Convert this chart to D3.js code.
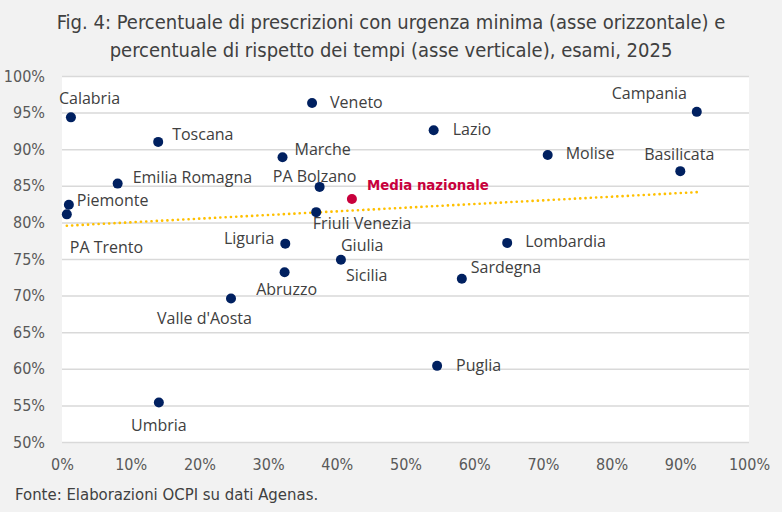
<!DOCTYPE html>
<html>
<head>
<meta charset="utf-8">
<script src="https://cdn.jsdelivr.net/npm/d3@7"></script>
<style>
  html, body { margin: 0; padding: 0; background: #f2f2f2; }
  #chart { width: 782px; height: 512px; }
  .narrow { font-family: "Liberation Sans Narrow", "DejaVu Sans Condensed", sans-serif; }
  .lbl { font-family: "Open Sans", sans-serif; }
</style>
</head>
<body>
<div id="chart"></div>
<script>
// dati (percentuali)
const regioni = ["Calabria", "Veneto", "Campania", "Toscana", "Lazio", "Marche", "Molise",
  "Basilicata", "Emilia Romagna", "PA Bolzano", "Piemonte", "Friuli Venezia Giulia", "PA Trento",
  "Liguria", "Lombardia", "Sicilia", "Abruzzo", "Sardegna", "Valle d'Aosta", "Puglia", "Umbria"];
const urgenzaMinima = [1.3, 36.4, 92.4, 14.0, 54.1, 32.1, 70.7, 90.0, 8.1, 37.5, 1.0, 37.0, 0.7,
  32.5, 64.8, 40.6, 32.4, 58.2, 24.6, 54.6, 14.1];
const rispettoTempi = [94.35, 96.3, 95.1, 91.0, 92.6, 88.9, 89.2, 87.0, 85.3, 84.85, 82.4, 81.4, 81.1,
  77.1, 77.2, 74.9, 73.2, 72.3, 69.6, 60.4, 55.4];
const mediaNazionale = { nome: "Media nazionale", x: 42.2, y: 83.2 };

const xTicks = [0, 10, 20, 30, 40, 50, 60, 70, 80, 90, 100];
const yTicks = [50, 55, 60, 65, 70, 75, 80, 85, 90, 95, 100];

const titolo = [
  "Fig. 4: Percentuale di prescrizioni con urgenza minima (asse orizzontale) e",
  "percentuale di rispetto dei tempi (asse verticale), esami, 2025"
];
const fonte = "Fonte: Elaborazioni OCPI su dati Agenas.";

// posizione delle etichette rispetto al punto: [dx, dy, ancoraggio]
const posEtichette = [
  [-12, -18, "start"], [18, 1, "start"], [-85, -17, "start"], [14, -6, "start"],
  [19, 1, "start"], [12, -7, "start"], [18, 0, "start"], [-1, -15, "middle"],
  [15, -5, "start"], [-5, -9, "middle"], [8, -3, "start"], [46, 13, "middle"],
  [3, 34, "start"], [-11, -4, "end"], [18, 0, "start"], [5, 17, "start"],
  [2, 19, "middle"], [9, -10, "start"], [-74, 21, "start"], [19, 1, "start"],
  [0, 24, "middle"]
];

const W = 782, H = 512;
const svg = d3.select("#chart").append("svg")
  .attr("width", W).attr("height", H);

svg.append("rect").attr("width", W).attr("height", H).attr("fill", "#f2f2f2");

const x = d3.scaleLinear().domain([0, 100]).range([62, 749]);
const y = d3.scaleLinear().domain([50, 100]).range([442, 76]);

// area del grafico
svg.append("rect")
  .attr("x", x(0)).attr("y", y(100))
  .attr("width", x(100) - x(0)).attr("height", y(50) - y(100))
  .attr("fill", "#fff");

// titolo
svg.append("g").selectAll("text")
  .data(titolo).join("text")
  .attr("class", "narrow")
  .attr("x", W / 2)
  .attr("y", (d, i) => 23 + i * 28)
  .attr("text-anchor", "middle")
  .attr("dominant-baseline", "middle")
  .attr("font-size", "20px")
  .attr("fill", "#404040")
  .text(d => d);

// griglia orizzontale
svg.append("g")
  .attr("transform", `translate(${x(0)},0)`)
  .call(d3.axisLeft(y).tickValues(yTicks).tickSize(-(x(100) - x(0))).tickFormat(""))
  .call(g => g.select(".domain").remove())
  .call(g => g.selectAll("line").attr("stroke", "#d9d9d9").attr("stroke-width", 1.5));

// etichette asse y
svg.append("g")
  .attr("transform", `translate(${x(0)},0)`)
  .call(d3.axisLeft(y).tickValues(yTicks).tickSize(0).tickPadding(17).tickFormat(d => d + "%"))
  .call(g => g.select(".domain").remove())
  .call(g => g.selectAll("text")
    .attr("class", "narrow").attr("font-size", "16px").attr("fill", "#595959"));

// etichette asse x
svg.append("g")
  .attr("transform", `translate(0,${y(50)})`)
  .call(d3.axisBottom(x).tickValues(xTicks).tickSize(0).tickPadding(17).tickFormat(d => d + "%"))
  .call(g => g.select(".domain").remove())
  .call(g => g.selectAll("text")
    .attr("class", "narrow").attr("font-size", "16px").attr("fill", "#595959"));

// linea di tendenza (minimi quadrati)
const punti = regioni.map((r, i) => ({ nome: r, x: urgenzaMinima[i], y: rispettoTempi[i], pos: posEtichette[i] }));
const mx = d3.mean(punti, d => d.x), my = d3.mean(punti, d => d.y);
const slope = d3.sum(punti, d => (d.x - mx) * (d.y - my)) / d3.sum(punti, d => (d.x - mx) ** 2);
const xEst = d3.extent(punti, d => d.x);
const trend = xEst.map(v => ({ x: v, y: my + slope * (v - mx) }));

svg.append("path")
  .datum(trend)
  .attr("d", d3.line().x(d => x(d.x)).y(d => y(d.y)))
  .attr("fill", "none")
  .attr("stroke", "#ffc000")
  .attr("stroke-width", 2.6)
  .attr("stroke-linecap", "round")
  .attr("stroke-dasharray", "0.1 5.2");

// punti regioni
svg.append("g").selectAll("circle")
  .data(punti).join("circle")
  .attr("cx", d => x(d.x))
  .attr("cy", d => y(d.y))
  .attr("r", 5)
  .attr("fill", "#002060");

// etichette regioni
const lab = svg.append("g").selectAll("text")
  .data(punti).join("text")
  .attr("class", "lbl")
  .attr("x", d => x(d.x) + d.pos[0])
  .attr("y", d => y(d.y) + d.pos[1])
  .attr("text-anchor", d => d.pos[2])
  .attr("dominant-baseline", "middle")
  .attr("font-size", "16px")
  .attr("fill", "#404040");

lab.each(function(d) {
  const t = d3.select(this);
  if (d.nome === "Friuli Venezia Giulia") {
    t.append("tspan").attr("x", x(d.x) + d.pos[0]).text("Friuli Venezia");
    t.append("tspan").attr("x", x(d.x) + d.pos[0]).attr("dy", 22).text("Giulia");
  } else {
    t.text(d.nome);
  }
});

// media nazionale
svg.append("circle")
  .attr("cx", x(mediaNazionale.x))
  .attr("cy", y(mediaNazionale.y))
  .attr("r", 5)
  .attr("fill", "#c8003c");

svg.append("text")
  .attr("class", "narrow")
  .attr("x", x(mediaNazionale.x) + 15)
  .attr("y", y(mediaNazionale.y) - 13)
  .attr("dominant-baseline", "middle")
  .attr("font-size", "14.8px")
  .attr("font-weight", "bold")
  .attr("fill", "#c8003c")
  .text(mediaNazionale.nome);

// fonte
svg.append("text")
  .attr("class", "narrow")
  .attr("x", 15)
  .attr("y", 495)
  .attr("dominant-baseline", "middle")
  .attr("font-size", "16.6px")
  .attr("fill", "#404040")
  .text(fonte);
</script>
</body>
</html>
